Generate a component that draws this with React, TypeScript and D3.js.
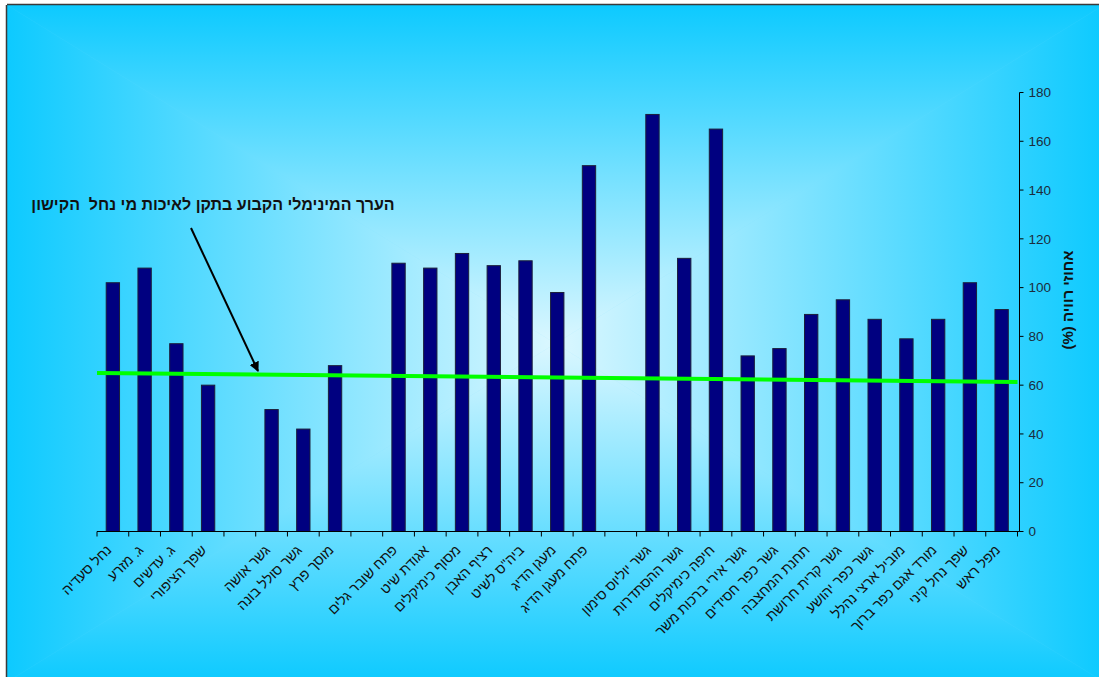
import React from 'react';
import * as d3 from 'd3';

const categories: string[] = [
  "נחל סעדיה", "ג. מזרע", "ג. עדשים", "שפך הציפורי", "",
  "גשר אושה", "גשר סולל בונה", "מוסך פרץ", "",
  "פתח שובר גלים", "אגודת שיט", "מסוף כימיקלים", "רציף האבן", "ביה\"ס לשיט", "מעגן הדיג", "פתח מעגן הדיג", "",
  "גשר יוליוס סימון", "גשר ההסתדרות", "חיפה כימיקלים", "גשר אירי ברכות משר", "גשר כפר חסידים",
  "תחנת המחצבה", "גשר קרית חרושת", "גשר כפר יהושע", "מוביל ארצי נהלל", "מורד אגם כפר ברוך", "שפך נחל קיני", "מפל ראש",
];
const saturation: (number | null)[] = [
  102, 108, 77, 60, null,
  50, 42, 68, null,
  110, 108, 114, 109, 111, 98, 150, null,
  171, 112, 165, 72, 75, 89, 95, 87, 79, 87, 102, 91,
];
const yTicks = [0, 20, 40, 60, 80, 100, 120, 140, 160, 180];
const standardLine = [65, 61.3];
const yTitle = "אחוזי רוויה (%)";
const annotation = "הערך המינימלי הקבוע בתקן לאיכות מי נחל  הקישון";

const W = 1099, H = 677;
const plot = { left: 97, right: 1017.5, top: 92.5, bottom: 531.5 };
const FONT = '"Liberation Sans", Arial, "DejaVu Sans", sans-serif';

export default function App() {
  const x = d3.scaleBand<number>().domain(categories.map((_, i) => i)).range([plot.left, plot.right]).padding(0);
  const y = d3.scaleLinear().domain([0, 180]).range([plot.bottom, plot.top]);
  const step = x.step();
  const bw = step * 0.42;

  const X0 = 7, Y0 = 5, X1 = 1104, Y1 = 682;
  const cx = (X0 + X1) / 2, cy = (Y0 + Y1) / 2;
  const edge = '#0dcaff', center = '#dbf7ff';

  const lineGen = d3.line<number>().x((_, i) => (i === 0 ? plot.left : plot.right)).y(d => y(d));

  const arrowStart = { x: 191, y: 228 };
  const arrowEnd = { x: 258, y: 371 };

  return (
    <svg width={W} height={H} style={{ position: 'fixed', left: 0, top: 0 }} fontFamily={FONT}>
      <defs>
        <linearGradient id="gTop" gradientUnits="userSpaceOnUse" x1={cx} y1={cy} x2={cx} y2={Y0}>
          <stop offset="0" stopColor={center} /><stop offset="1" stopColor={edge} />
        </linearGradient>
        <linearGradient id="gBot" gradientUnits="userSpaceOnUse" x1={cx} y1={cy} x2={cx} y2={Y1}>
          <stop offset="0" stopColor={center} /><stop offset="1" stopColor={edge} />
        </linearGradient>
        <linearGradient id="gLeft" gradientUnits="userSpaceOnUse" x1={cx} y1={cy} x2={X0} y2={cy}>
          <stop offset="0" stopColor={center} /><stop offset="1" stopColor={edge} />
        </linearGradient>
        <linearGradient id="gRight" gradientUnits="userSpaceOnUse" x1={cx} y1={cy} x2={X1} y2={cy}>
          <stop offset="0" stopColor={center} /><stop offset="1" stopColor={edge} />
        </linearGradient>
        <marker id="arrow" viewBox="0 0 10 10" refX="9" refY="5" markerWidth="5" markerHeight="5" orient="auto">
          <path d="M0,0 L10,5 L0,10 z" fill="#000" />
        </marker>
      </defs>
      <rect x={0} y={0} width={W} height={H} fill="#fff" />
      <rect x={X0} y={Y0} width={X1 - X0} height={Y1 - Y0} fill="#6fdcff" />
      <polygon points={`${X0},${Y0} ${X1},${Y0} ${cx},${cy}`} fill="url(#gTop)" stroke="url(#gTop)" strokeWidth={0.5} />
      <polygon points={`${X0},${Y1} ${X1},${Y1} ${cx},${cy}`} fill="url(#gBot)" stroke="url(#gBot)" strokeWidth={0.5} />
      <polygon points={`${X0},${Y0} ${X0},${Y1} ${cx},${cy}`} fill="url(#gLeft)" stroke="url(#gLeft)" strokeWidth={0.5} />
      <polygon points={`${X1},${Y0} ${X1},${Y1} ${cx},${cy}`} fill="url(#gRight)" stroke="url(#gRight)" strokeWidth={0.5} />
      <line x1={X0 - 0.5} y1={Y0} x2={X0 - 0.5} y2={H} stroke="#3a3a3a" strokeWidth={1.5} />
      <line x1={X0} y1={Y0 - 0.5} x2={W} y2={Y0 - 0.5} stroke="#3a3a3a" strokeWidth={1.5} />

      {/* bars */}
      {saturation.map((v, i) =>
        v == null ? null : (
          <rect key={i} x={(x(i) as number) + (step - bw) / 2} y={y(v)} width={bw} height={y(0) - y(v)}
            fill="#000080" stroke="#1b1f3a" strokeWidth={1} />
        )
      )}

      {/* standard line */}
      <path d={lineGen(standardLine) || ''} stroke="#00ff00" strokeWidth={4} fill="none" />

      {/* x axis */}
      <line x1={plot.left} y1={plot.bottom} x2={plot.right + 2} y2={plot.bottom} stroke="#000" strokeWidth={1} />
      {categories.map((_, i) => (
        <line key={'t' + i} x1={x(i) as number} x2={x(i) as number} y1={plot.bottom} y2={plot.bottom + 5} stroke="#000" />
      ))}
      <line x1={plot.right} x2={plot.right} y1={plot.bottom} y2={plot.bottom + 5} stroke="#000" />
      {categories.map((c, i) =>
        c ? (
          <text key={'l' + i} transform={`translate(${(x(i) as number) + step / 2 - 4},${plot.bottom + 16}) rotate(-45)`}
            textAnchor="start" direction="rtl" dy="0.35em" fontSize={14} fill="#111">{c}</text>
        ) : null
      )}

      {/* y axis on right */}
      <line x1={plot.right + 2} y1={plot.top} x2={plot.right + 2} y2={plot.bottom} stroke="#000" strokeWidth={1} />
      {yTicks.map(t => (
        <g key={'y' + t}>
          <line x1={plot.right + 2} x2={plot.right + 6} y1={y(t)} y2={y(t)} stroke="#000" />
          <text x={plot.right + 11} y={y(t)} dy="0.35em" fontSize={13.5} fill="#1c2c3c">{t}</text>
        </g>
      ))}
      <text transform={`translate(1068,300) rotate(-90)`} textAnchor="middle" direction="rtl"
        dy="0.35em" fontSize={15} fontWeight="bold" fill="#111">{yTitle}</text>

      {/* annotation */}
      <text x={213} y={210} textAnchor="middle" direction="rtl" fontSize={16} fontWeight="bold" fill="#111"
        style={{ whiteSpace: 'pre' }}>{annotation}</text>
      <line x1={arrowStart.x} y1={arrowStart.y} x2={arrowEnd.x} y2={arrowEnd.y} stroke="#000" strokeWidth={2} markerEnd="url(#arrow)" />
    </svg>
  );
}
